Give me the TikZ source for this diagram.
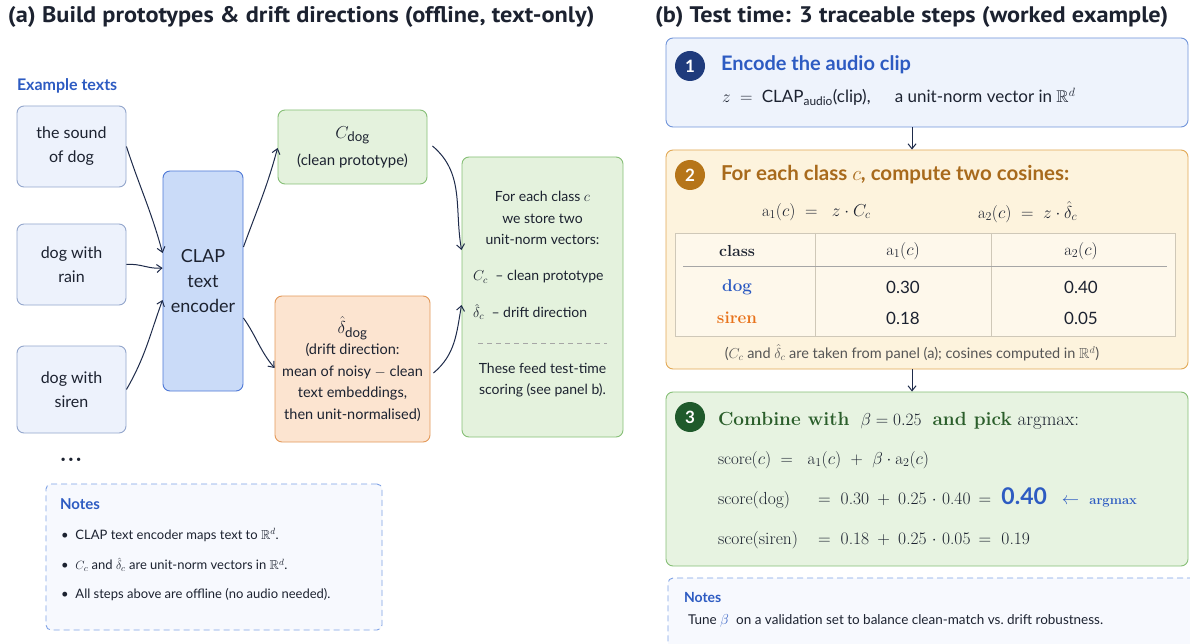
\documentclass[tikz,border=0pt]{standalone}
\usepackage{amsmath,amssymb}
\usepackage{fontspec}
\setsansfont{Lato}
\renewcommand{\familydefault}{\sfdefault}
\newfontfamily\titlefont[FakeStretch=1.08]{PT Sans}
\usetikzlibrary{arrows.meta,calc}
\definecolor{navyA}{HTML}{1E2B4A}
\definecolor{txtA}{HTML}{1C2230}
\definecolor{exFill}{HTML}{EDF2FC}
\definecolor{exLine}{HTML}{93A6CC}
\definecolor{clapFill}{HTML}{CADBF8}
\definecolor{clapLine}{HTML}{4E78D6}
\definecolor{grFill}{HTML}{E4F2DD}
\definecolor{grLine}{HTML}{86BF76}
\definecolor{orFill}{HTML}{FCE4D0}
\definecolor{orLine}{HTML}{E3995A}
\definecolor{blueT}{HTML}{2D5BC2}
\definecolor{noteFill}{HTML}{F7F9FE}
\definecolor{noteLine}{HTML}{7FA2E6}
\definecolor{s1Fill}{HTML}{EEF3FC}
\definecolor{s1Line}{HTML}{7094DA}
\definecolor{s2Fill}{HTML}{FDF3DD}
\definecolor{s2Line}{HTML}{E2A955}
\definecolor{s2Title}{HTML}{A86A1C}
\definecolor{c1}{HTML}{1F3B7C}
\definecolor{c2}{HTML}{B67519}
\definecolor{c3}{HTML}{1F5A2B}
\definecolor{s3Fill}{HTML}{E7F3E1}
\definecolor{s3Title}{HTML}{2B5E2B}
\definecolor{sirenT}{HTML}{E8731C}
\definecolor{tblLine}{HTML}{CFC8B8}
\definecolor{capT}{HTML}{555555}
\newcommand{\fsz}[2]{\fontsize{#1}{#2}\selectfont}
\tikzset{
  rbox/.style={draw, rounded corners=7pt, line width=0.9pt, inner sep=0pt, align=center, text=txtA},
  arr/.style={-{Straight Barb[length=5pt,width=8pt]}, line width=1pt, draw=navyA},
  txt/.style={inner sep=0pt, outer sep=0pt, text=txtA},
  numc/.style={circle, minimum size=30pt, inner sep=0pt, text=white, font=\fsz{17}{17}\bfseries},
  notebox/.style={draw=noteLine, fill=noteFill, dashed, dash pattern=on 6pt off 4pt, rounded corners=5pt, line width=0.9pt, inner sep=0pt},
}
\begin{document}
\begin{tikzpicture}[x=1pt, y=-1pt, font=\sffamily]
\useasboundingbox (0,0) rectangle (1190,644);
\fill[white] (0,0) rectangle (1190,644);

% ---------- panel (a) ----------
\node[txt, anchor=west] (ta) at (8,17) {\titlefont\bfseries\fsz{22.5}{24}(a) Build prototypes \& drift directions (offline, text-only)};
\node[txt, anchor=west, text=blueT] (ex) at (17,86) {\fsz{16}{18}\bfseries Example texts};

\node[rbox, fill=exFill, draw=exLine, minimum width=109pt, minimum height=81pt, font=\fsz{16}{24}] (b1) at (71.5,146.5) {the sound\\of dog};
\node[rbox, fill=exFill, draw=exLine, minimum width=109pt, minimum height=81pt, font=\fsz{16}{24}] (b2) at (71.5,264.5) {dog with\\rain};
\node[rbox, fill=exFill, draw=exLine, minimum width=109pt, minimum height=87pt, font=\fsz{16}{24}] (b3) at (71.5,389.5) {dog with\\siren};
\node[txt, font=\fsz{9}{9}] (dots) at (71,460) {\textbullet\;\textbullet\;\textbullet};

\node[rbox, fill=clapFill, draw=clapLine, minimum width=80pt, minimum height=220pt, font=\fsz{18}{25}] (clap) at (203,281) {CLAP\\text\\encoder};

\node[rbox, fill=grFill, draw=grLine, minimum width=149pt, minimum height=74pt, font=\fsz{15}{27}] (cdog) at (352.5,147) {{\fsz{19}{20}$C_{\text{dog}}$}\\(clean prototype)};

\node[rbox, fill=orFill, draw=orLine, minimum width=155pt, minimum height=146pt, font=\fsz{14.5}{21.5}] (delta) at (352.5,369) {{\fsz{19}{24}$\hat{\delta}_{\text{dog}}$}\\(drift direction:\\mean of noisy $-$ clean\\text embeddings,\\then unit-normalised)};

\node[rbox, fill=grFill, draw=grLine, minimum width=161pt, minimum height=280pt] (store) at (542.5,297) {};
\node[txt, align=center, font=\fsz{14}{21.5}] (st1) at (542.5,218) {For each class $c$\\we store two\\unit-norm vectors:};
\node[txt, anchor=west, font=\fsz{14}{18}] (st2) at (473,277) {$C_c$\; \textendash\ clean prototype};
\node[txt, anchor=west, font=\fsz{14}{18}] (st3) at (473,312) {$\hat{\delta}_c$\; \textendash\ drift direction};
\draw[gray!70, dashed, dash pattern=on 5pt off 4pt, line width=0.7pt] (478,343) -- (607,343);
\node[txt, align=center, font=\fsz{14}{21}] (st4) at (542.5,380) {These feed test-time\\scoring (see panel b).};

\draw[arr] (b1.east) to[out=-72, in=105] (clap.west |- 0,253);
\draw[arr] (b2.east) to[out=5, in=185] (clap.west |- 0,268);
\draw[arr] (b3.east) to[out=60, in=-110] (clap.west |- 0,300);
\draw[arr] (clap.east |- 0,247) to[out=70, in=-105] (cdog.west |- 0,148);
\draw[arr] (clap.east |- 0,318) to[out=-55, in=130] (delta.west |- 0,368);
\draw[arr] ([xshift=5pt]cdog.east |- 0,146) to[out=-40, in=100] (store.west |- 0,250);
\draw[arr] ([xshift=3pt]delta.east |- 0,373) to[out=40, in=-100] (store.west |- 0,305);

\node[notebox, minimum width=336pt, minimum height=146pt] (na) at (214,557) {};
\node[txt, anchor=west, text=blueT] (nat) at (60,504) {\fsz{15}{18}\bfseries Notes};
\node[txt, anchor=west, font=\fsz{13}{16}] (na1) at (61,535) {\textbullet\; CLAP text encoder maps text to $\mathbb{R}^d$.};
\node[txt, anchor=west, font=\fsz{13}{16}] (na2) at (61,565) {\textbullet\; $C_c$ and $\hat{\delta}_c$ are unit-norm vectors in $\mathbb{R}^d$.};
\node[txt, anchor=west, font=\fsz{13}{16}] (na3) at (61,595) {\textbullet\; All steps above are offline (no audio needed).};

% ---------- panel (b) ----------
\node[txt, anchor=west] (tb) at (655,17) {\titlefont\bfseries\fsz{22.5}{24}(b) Test time: 3 traceable steps (worked example)};

% step 1
\node[rbox, fill=s1Fill, draw=s1Line, minimum width=522pt, minimum height=89pt] (s1) at (927,82.5) {};
\node[numc, fill=c1] (n1) at (690,66) {1};
\node[txt, anchor=west, text=blueT] (s1t) at (721,65) {\fsz{20}{22}\bfseries Encode the audio clip};
\node[txt, anchor=west, font=\fsz{17}{18}] (s1f) at (722,97) {$z\;=\;$ CLAP$_{\text{audio}}$(clip),\quad\, a unit-norm vector in $\mathbb{R}^d$};

% step 2
\node[rbox, fill=s2Fill, draw=s2Line, minimum width=522pt, minimum height=219pt] (s2) at (927,259.5) {};
\node[numc, fill=c2] (n2) at (690,175) {2};
\node[txt, anchor=west, text=s2Title] (s2t) at (721,175) {\fsz{20.5}{22}\bfseries For each class $c$, compute two cosines:};
\node[txt, anchor=west, font=\fsz{16.5}{18}] (f1) at (762,212) {$\mathrm{a}_1(c)\;=\;\;z\cdot C_c$};
\node[txt, anchor=west, font=\fsz{16.5}{18}] (f2) at (978,212) {$\mathrm{a}_2(c)\;=\;z\cdot \hat{\delta}_c$};

\node[draw=tblLine, fill=s2Fill!60!white, line width=0.8pt, minimum width=500pt, minimum height=103pt, inner sep=0pt] (tbl) at (925,284.5) {};
\draw[tblLine, line width=0.8pt] (815,233) -- (815,336);
\draw[tblLine, line width=0.8pt] (991,233) -- (991,336);
\draw[gray!70, line width=0.8pt] (683,266) -- (1167,266);
\node[txt, font=\rmfamily\bfseries\fsz{16}{18}] (hc) at (737,251) {class};
\node[txt, font=\fsz{16.5}{18}] (h1) at (903,251) {$\mathrm{a}_1(c)$};
\node[txt, font=\fsz{16.5}{18}] (h2) at (1081,251) {$\mathrm{a}_2(c)$};
\node[txt, font=\rmfamily\bfseries\fsz{17}{18}, text=blueT] (rd) at (737,287) {dog};
\node[txt, font=\fsz{17}{18}] (rd1) at (903,287) {0.30};
\node[txt, font=\fsz{17}{18}] (rd2) at (1081,287) {0.40};
\node[txt, font=\rmfamily\bfseries\fsz{17}{18}, text=sirenT] (rs) at (737,318) {siren};
\node[txt, font=\fsz{17}{18}] (rs1) at (903,318) {0.18};
\node[txt, font=\fsz{17}{18}] (rs2) at (1081,318) {0.05};
\node[txt, font=\fsz{14.5}{16}, text=capT] (cap) at (912,353) {($C_c$ and $\hat{\delta}_c$ are taken from panel (a); cosines computed in $\mathbb{R}^d$)};

% step 3
\node[rbox, fill=s3Fill, draw=grLine, minimum width=522pt, minimum height=174pt] (s3) at (927,479) {};
\node[numc, fill=c3] (n3) at (690,417) {3};
\node[txt, anchor=west, font=\rmfamily\fsz{19}{22}] (s3t) at (718,421) {\textcolor{s3Title}{\bfseries Combine with}\; $\beta=0.25$\; \textcolor{s3Title}{\bfseries and pick} argmax:};
\node[txt, anchor=west, font=\rmfamily\fsz{17}{20}] (sc0) at (718,460) {score$(c)$\;\;=\;\; $\mathrm{a}_1(c)$\;\;+\;\;$\beta\cdot\mathrm{a}_2(c)$};
\node[txt, anchor=west, font=\rmfamily\fsz{17.5}{20}] (sc1) at (718,498) {\makebox[100pt][l]{score(dog)}=\; 0.30 \,+\, 0.25 $\cdot$ 0.40 \,=\; \textcolor{blueT}{\sffamily\bfseries\fsz{23}{22}0.40}\;\; \textcolor{blueT}{$\leftarrow$\; \bfseries\fsz{13}{14}argmax}};
\node[txt, anchor=west, font=\rmfamily\fsz{17.5}{20}] (sc2) at (718,540) {\makebox[100pt][l]{score(siren)}=\; 0.18 \,+\, 0.25 $\cdot$ 0.05 \,=\; 0.19};

% notes (b)
\begin{scope}
\clip (0,0) rectangle (1190,644);
\node[notebox, minimum width=530pt, minimum height=90pt] (nb) at (933,623) {};
\end{scope}
\node[txt, anchor=west, text=blueT] (nbt) at (684,597) {\fsz{14}{16}\bfseries Notes};
\node[txt, anchor=west, font=\fsz{13.5}{16}] (nb1) at (688,621) {Tune \textcolor{blueT}{$\beta$}\; on a validation set to balance clean-match vs.\ drift robustness.};

\draw[arr] (s1.south -| cap) -- (s2.north -| cap);
\draw[arr] (s2.south -| cap) -- (s3.north -| cap);
\end{tikzpicture}
\end{document}
